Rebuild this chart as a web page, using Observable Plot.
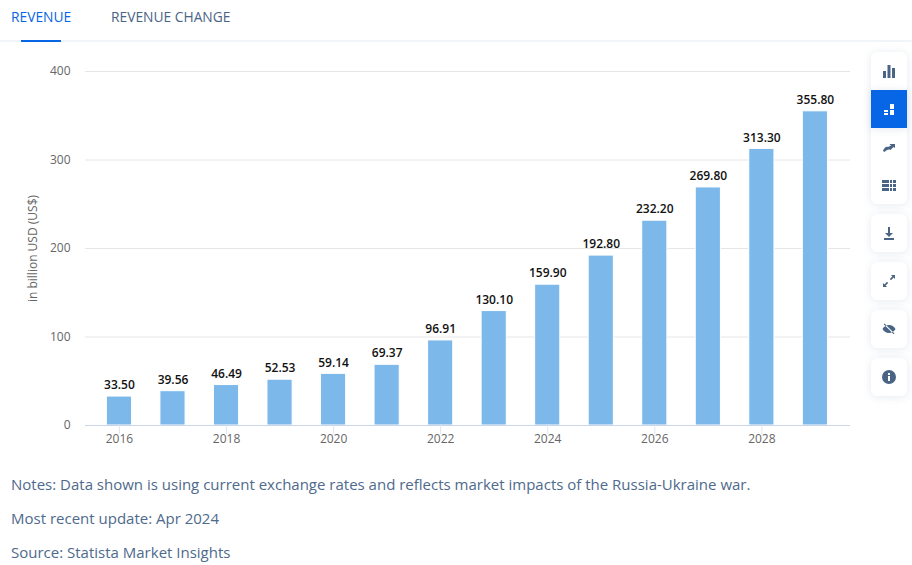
<!DOCTYPE html>
<html><head><meta charset="utf-8">
<script src="https://cdn.jsdelivr.net/npm/d3@7"></script>
<script src="https://cdn.jsdelivr.net/npm/@observablehq/plot@0.6"></script>
<style>
html,body{margin:0;padding:0;background:#fff;width:912px;height:565px;overflow:hidden;font-family:"Open Sans",sans-serif}
#tabs{position:relative;height:42px;box-sizing:border-box;border-bottom:2px solid #f1f5f9}
#tabs span{position:absolute;top:8px;font-size:13.8px;font-weight:500;color:#4a6486;line-height:18px}
#tabs i{position:absolute;left:21px;top:40px;width:40px;height:2px;background:#0666e5}
#chart{height:418px}
#chart svg{display:block}
#notes{color:#4e6a8c;font-size:15px;line-height:20px}
#notes div{position:absolute;left:11px}
.box{position:absolute;left:871px;width:36px;background:#fff;border-radius:6px;box-shadow:0 1px 8px rgba(70,100,150,.14);display:flex;align-items:center;justify-content:center}
.box.on{background:#0666e5;border-radius:0}
.box svg{width:14px;height:14px;fill:#4a6486}
.on svg{fill:#fff}
</style></head><body>
<div id="tabs"><span style="left:11px;color:#0666e5">REVENUE</span><span style="left:111px">REVENUE CHANGE</span><i></i></div>
<div id="chart"></div>
<div id="notes"></div>
<div id="side"></div>
<script>
const years = [2016,2017,2018,2019,2020,2021,2022,2023,2024,2025,2026,2027,2028,2029];
const revenue = [33.50,39.56,46.49,52.53,59.14,69.37,96.91,130.10,159.90,192.80,232.20,269.80,313.30,355.80];
const yTicks = [0,100,200,300,400];
const xTicks = [2016,2018,2020,2022,2024,2026,2028];
const noteLines = ["Notes: Data shown is using current exchange rates and reflects market impacts of the Russia-Ukraine war.","Most recent update: Apr 2024","Source: Statista Market Insights"];
const table = years.map((year,i)=>({year,value:revenue[i]}));

const plot = Plot.plot({
  width:912,height:418,marginLeft:85,marginRight:62,marginTop:29,marginBottom:35,
  style:{fontFamily:'"Open Sans",sans-serif',background:"transparent"},
  x:{type:"band",domain:years,paddingInner:0.53,paddingOuter:0.41,align:0.487,round:false},
  y:{domain:[0,400]},
  marks:[
    Plot.gridY(yTicks,{stroke:"#e6e6e6",strokeOpacity:1}),
    Plot.barY(table,{x:"year",y:"value",fill:"#7cb9ea",stroke:"#fff",strokeWidth:1,insetTop:0.7}),
    Plot.ruleY([0],{stroke:"#ccd6eb"}),
    Plot.axisX({ticks:xTicks,tickFormat:d=>String(d),label:null,tickSize:9,tickPadding:0,stroke:"#dfe6f2",strokeOpacity:1,color:"#666",fontSize:12,style:"letter-spacing:.7px"}),
    Plot.axisY({ticks:yTicks,tickSize:0,tickPadding:15,color:"#666",fontSize:12,label:"in billion USD (US$)",labelAnchor:"center",labelArrow:"none",labelOffset:57,style:"letter-spacing:.8px"}),
    Plot.text(table,{x:"year",y:"value",text:d=>d.value.toFixed(2),dy:-10.5,fontSize:12,fontWeight:600,fill:"#111",style:"letter-spacing:.1px"})
  ]
});
document.getElementById("chart").appendChild(plot);

const notes=document.getElementById("notes");
noteLines.forEach((t,i)=>{const d=document.createElement("div");d.textContent=t;d.style.top=[474,508,542][i]+"px";notes.appendChild(d);});

const icons=[
 ["M1 7h3v7H1zM5.500 1h3v13h-3zM10 4h3v10h-3z",52,38,"top"],
 ["M2 8h4v2H2zM2 11h4v2H2zM8 2h4v5H8zM8 8h4v5H8z",90,38,"on"],
 ["M1 11c1-3 3-5 5-4l3-1.500-1.500-1.500H13v4l-1.500-1-3 3c-2-1-4 0-6 2z",128,38,"mid"],
 ["M0 2h7v3H0zM0 6h7v3H0zM0 10h7v3H0zM8 2h2v3H8zM11 2h3v3h-3zM8 6h2v3H8zM11 6h3v3h-3zM8 10h2v3H8zM11 10h3v3h-3z",166,38,"bot"],
 ["M6 1h2v6h3l-4 4-4-4h3zM2 12h10v2H2z",214,38,""],
 ["M9 1h4v4l-1.400-1.400-2.600 2.600-1.200-1.200 2.600-2.600zM1 13V9l1.400 1.400 2.600-2.600 1.200 1.200-2.600 2.600L5 13z",262,38,""],
 ["M7 3c3 0 5.500 2 6.500 4-1 2-3.500 4-6.500 4S1.500 9 .5 7C1.500 5 4 3 7 3zM2.500 1.500l10 10-.8.8-10-10z",310,38,""],
 ["M7 0a7 7 0 1 0 0 14A7 7 0 0 0 7 0zM6 3h2v2H6zM6 6h2v5H6z",358,38,""]
];
const side=document.getElementById("side");
const bg=document.createElement("div");bg.className="box";bg.style.top="52px";bg.style.height="152px";side.appendChild(bg);
icons.forEach(([p,top,h,k])=>{
  const b=document.createElement("div");b.className="box"+(k==="on"?" on":"");
  b.style.top=top+"px";b.style.height=h+"px";
  if(["top","mid","bot"].includes(k)){b.style.boxShadow="none";if(k!=="on")b.style.background="transparent";}
  b.innerHTML=`<svg viewBox="0 0 14 14"><path fill-rule="evenodd" d="${p}"/></svg>`;
  side.appendChild(b);
});
</script></body></html>
